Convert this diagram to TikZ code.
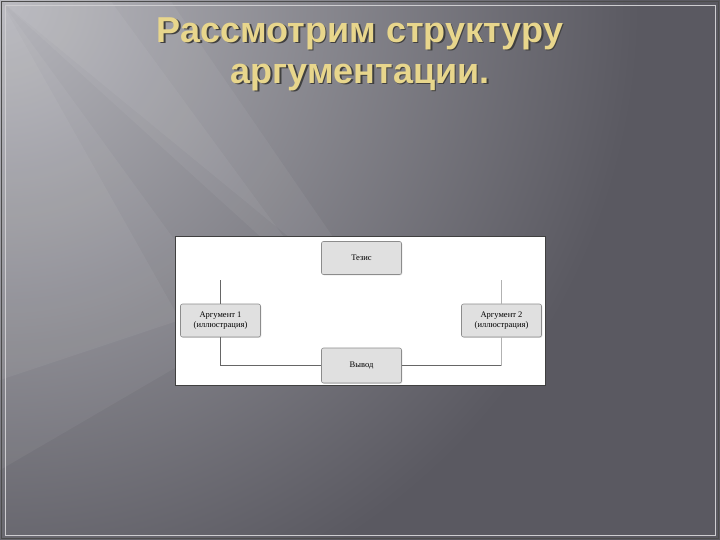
\documentclass[tikz,border=0pt]{standalone}
\usepackage{fontspec}
\setmainfont{Liberation Serif}
\newfontfamily\titlefont{Liberation Sans}
\usetikzlibrary{positioning,shadows}

\definecolor{slidebg}{RGB}{90,89,97}
\definecolor{slidelight}{RGB}{182,182,188}
\definecolor{titlegold}{RGB}{232,214,140}
\definecolor{boxfill}{RGB}{224,224,224}
\definecolor{boxline}{RGB}{140,140,140}

\begin{document}
\begin{tikzpicture}[
        x=1pt, y=-1pt,
        argbox/.style={
                rectangle,
                rounded corners=2pt,
                draw=boxline,
                fill=boxfill,
                line width=0.6pt,
                drop shadow={shadow xshift=0.8pt, shadow yshift=-0.8pt, opacity=0.25},
                minimum width=80pt,
                minimum height=33pt,
                align=center,
                inner sep=1pt,
                font=\fontsize{8.5}{9.5}\selectfont
            },
        link/.style={draw=black!60, line width=0.6pt},
        faintlink/.style={draw=black!30, line width=0.6pt},
        streak/.style={fill=white, opacity=0.05},
        headline/.style={font=\titlefont\bfseries\fontsize{36}{41}\selectfont, align=center}
    ]
    % slide background
    \begin{scope}
        \clip (0,0) rectangle (720,540);
        \fill[slidebg] (0,0) rectangle (720,540);
        \shade[inner color=slidelight, outer color=slidebg] (0,0) circle (640);
        \fill[streak] (0,0) -- (170,0) -- (390,320) -- cycle;
        \fill[streak] (0,0) -- (110,0) -- (330,300) -- cycle;
        \fill[streak] (0,0) -- (240,330) -- (0,470) -- cycle;
        \fill[streak] (0,0) -- (180,320) -- (0,380) -- cycle;
    \end{scope}
    \draw[black!70, line width=1pt] (1.5,1.5) rectangle (718.5,538.5);
    \draw[white!70!slidebg, line width=0.5pt] (5,5) rectangle (715,535);

    % title
    \node[headline, text=black!75] (titleshadow) at (361.5,55.5)
        {Рассмотрим структуру\\аргументации.};
    \node[headline, text=titlegold] (title) at (360,54)
        {Рассмотрим структуру\\аргументации.};

    % white panel
    \draw[black!75, line width=1.5pt, fill=white] (175.5,236.5) rectangle (545.5,385.5);

    \node[argbox] (thesis)  at (361.5,258)   {Тезис};
    \node[argbox] (argone)  at (220.5,320.5) {Аргумент 1\\(иллюстрация)};
    \node[argbox] (argtwo)  at (501.5,320.5) {Аргумент 2\\(иллюстрация)};
    \node[argbox, minimum height=35pt] (result) at (361.5,365.5) {Вывод};

    \coordinate (argonetop) at (220.5,280);
    \coordinate (argtwotop) at (501.5,280);
    \coordinate (argtwoturn) at (501.5,365.5);

    \path[link] (argonetop) -- (argone.north);
    \path[link] (argone.south) |- (result.west);
    \path[link] (result.east) -- (argtwoturn);
    \path[faintlink] (argtwotop) -- (argtwo.north);
    \path[faintlink] (argtwo.south) -- (argtwoturn);
\end{tikzpicture}
\end{document}
